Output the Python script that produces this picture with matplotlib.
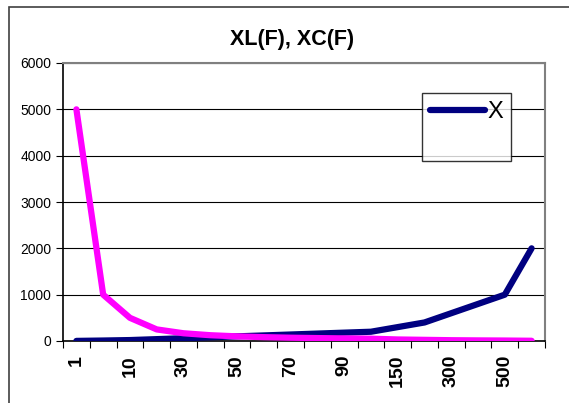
import matplotlib.pyplot as plt
from matplotlib.patches import Rectangle
from matplotlib.lines import Line2D

plt.rcParams['font.family'] = ['Liberation Sans', 'DejaVu Sans']

# Frequency categories and reactances
freq = [1, 5, 10, 20, 30, 40, 50, 60, 70, 80, 90, 100, 150, 200, 300, 400, 500, 1000]
xl = [2, 10, 20, 40, 60, 80, 100, 120, 140, 160, 180, 200, 300, 400, 600, 800, 1000, 2000]
xc = [5000, 1000, 500, 250, 167, 125, 100, 83, 71, 63, 56, 50, 33, 25, 17, 13, 10, 5]
tick_labels = ["1", "10", "30", "50", "70", "90", "150", "300", "500"]

fig = plt.figure(figsize=(5.69, 4.03), dpi=100)
ax = fig.add_axes([63 / 569, 1 - 341 / 403, (545 - 63) / 569, (341 - 63) / 403])

pos = [i + 0.5 for i in range(len(freq))]
blue, = ax.plot(pos, xl, color="#000080", lw=4.5, solid_capstyle="round", zorder=3)
ax.plot(pos, xc, color="#FF00FF", lw=4.5, solid_capstyle="round", zorder=4)

ax.set_xlim(0, len(freq))
ax.set_ylim(0, 6000)
ax.set_yticks(range(0, 6001, 1000))
ax.yaxis.grid(True, color="black", lw=0.8)
ax.set_axisbelow(True)

ax.set_xticks(range(len(freq) + 1))
ax.set_xticklabels([])
ax.set_xticks(pos[::2], minor=True)
ax.set_xticklabels(tick_labels, minor=True, rotation=90, fontweight="bold", fontsize=14)
ax.tick_params(axis="x", which="minor", length=0, pad=10)
ax.tick_params(axis="x", which="major", length=5, direction="out")
ax.tick_params(axis="y", length=5, labelsize=10)

for side in ["top", "right"]:
    ax.spines[side].set_color("#808080")
    ax.spines[side].set_linewidth(1.5)
for side in ["left", "bottom"]:
    ax.spines[side].set_color("black")
    ax.spines[side].set_linewidth(1.2)

blank = Line2D([], [], color="none")
leg = ax.legend([blue, blank], ["X", " "], loc="upper left",
                bbox_to_anchor=((422 - 63) / 482, 1 - (93 - 63) / 278),
                frameon=True, fancybox=False, fontsize=17, handlelength=2.35,
                handletextpad=0.1, borderpad=0.33, labelspacing=0.35,
                borderaxespad=0)
leg.get_frame().set_edgecolor("black")
leg.get_frame().set_linewidth(1.0)

fig.text(292 / 569, 1 - 39 / 403, "XL(F), XC(F)", ha="center", va="center",
         fontsize=15.5, fontweight="bold")

# chart area border (clipped on right and bottom)
fig.patches.append(Rectangle((9 / 569, -0.1), 1.2, 1 - 7 / 403 + 0.1,
                             transform=fig.transFigure, fill=False,
                             edgecolor="#404040", lw=1.2))

fig.savefig("out.png", dpi=100)
